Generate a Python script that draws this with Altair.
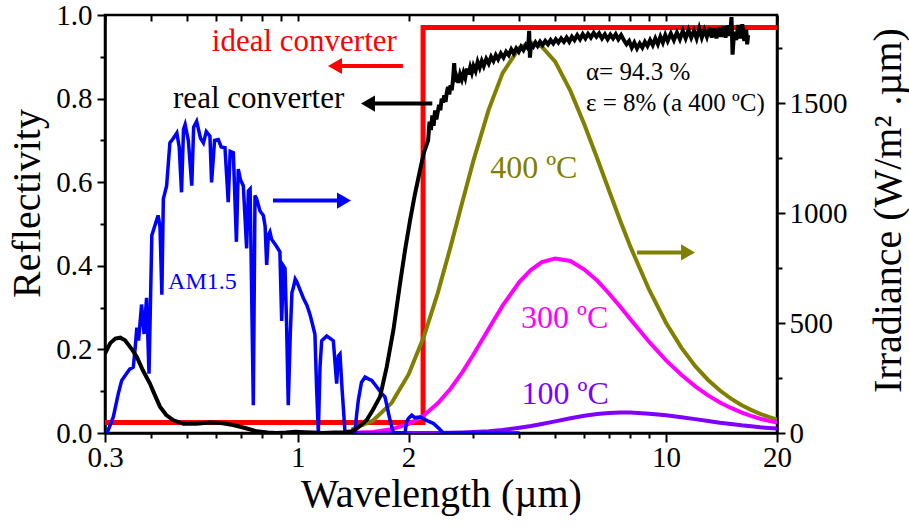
import altair as alt
import pandas as pd

FONT = "Liberation Serif"

# ---------------- data ----------------
# ideal converter (reflectivity, left axis)
ideal_wl = [0.3, 2.19, 2.19, 20]
ideal_r = [0.025, 0.025, 0.97, 0.97]

# real converter (reflectivity, left axis)
real_wl = [0.300, 0.310, 0.320, 0.330, 0.340, 0.355, 0.366, 0.380, 0.397, 0.410,
           0.423, 0.440, 0.459, 0.489, 0.530, 0.578, 0.620, 0.668, 0.720, 0.775,
           0.830, 0.877, 0.930, 0.990, 1.050, 1.100, 1.170, 1.250, 1.330, 1.400,
           1.450, 1.500, 1.540, 1.600, 1.674, 1.745, 1.819, 1.896, 1.956, 2.020,
           2.080, 2.150, 2.200,
           2.26, 2.28, 2.30, 2.32, 2.34, 2.36, 2.38, 2.40, 2.42, 2.44,
           2.46, 2.48, 2.50, 2.52, 2.54, 2.56, 2.58, 2.60, 2.62, 2.64,
           2.66, 2.68, 2.70, 2.73, 2.76, 2.79, 2.82, 2.85, 2.88, 2.91,
           2.94, 2.97, 3.00, 3.04, 3.08, 3.12, 3.16, 3.20, 3.25, 3.30,
           3.35, 3.40, 3.45, 3.50, 3.56, 3.62, 3.68, 3.74, 3.80, 3.86,
           3.92, 3.98, 4.04, 4.10, 4.16, 4.22, 4.25, 4.27, 4.30, 4.36,
           4.42, 4.48, 4.55, 4.62, 4.70, 4.78, 4.86, 4.94, 5.02, 5.10,
           5.19, 5.28, 5.37, 5.46, 5.55, 5.64, 5.74, 5.84, 5.94, 6.04,
           6.14, 6.25, 6.36, 6.47, 6.58, 6.70, 6.82, 6.94, 7.06, 7.18,
           7.30, 7.42, 7.55, 7.68, 7.81, 7.94, 8.07, 8.20, 8.34, 8.48,
           8.62, 8.76, 8.90, 9.05, 9.20, 9.35, 9.50, 9.65, 9.80, 9.95,
           10.1, 10.3, 10.5, 10.7, 10.9, 11.1, 11.3, 11.5, 11.7, 11.9,
           12.1, 12.3, 12.5, 12.7, 12.9, 13.1, 13.3, 13.5, 13.7, 13.9,
           14.1, 14.3, 14.5, 14.7, 14.9, 15.05, 15.15, 15.3, 15.5, 15.7,
           15.9, 16.1, 16.3, 16.5, 16.6, 16.7]
real_r = [0.190, 0.215, 0.226, 0.228, 0.222, 0.200, 0.182, 0.150, 0.119, 0.090,
          0.063, 0.043, 0.031, 0.022, 0.022, 0.025, 0.024, 0.019, 0.012, 0.004,
          0.001, 0.000, 0.001, 0.003, 0.002, 0.001, 0.000, 0.001, 0.001, 0.004,
          0.011, 0.022, 0.031, 0.055, 0.087, 0.158, 0.246, 0.357, 0.437, 0.510,
          0.570, 0.630, 0.670,
          0.700, 0.745, 0.725, 0.760, 0.735, 0.772, 0.750, 0.768, 0.785, 0.772,
          0.800, 0.790, 0.808, 0.792, 0.815, 0.828, 0.810, 0.832, 0.820, 0.845,
          0.885, 0.840, 0.852, 0.838, 0.858, 0.846, 0.862, 0.850, 0.872, 0.858,
          0.875, 0.862, 0.878, 0.866, 0.888, 0.874, 0.890, 0.878, 0.895, 0.884,
          0.900, 0.890, 0.904, 0.894, 0.908, 0.898, 0.912, 0.904, 0.918, 0.908,
          0.920, 0.912, 0.924, 0.916, 0.928, 0.920, 0.962, 0.898, 0.930, 0.924,
          0.934, 0.926, 0.936, 0.928, 0.938, 0.930, 0.940, 0.932, 0.942, 0.934,
          0.944, 0.936, 0.946, 0.936, 0.948, 0.940, 0.952, 0.942, 0.954, 0.944,
          0.955, 0.946, 0.957, 0.948, 0.956, 0.944, 0.954, 0.942, 0.953, 0.944,
          0.954, 0.942, 0.952, 0.940, 0.930, 0.938, 0.922, 0.934, 0.920, 0.932,
          0.922, 0.936, 0.926, 0.940, 0.928, 0.944, 0.930, 0.948, 0.934, 0.952,
          0.938, 0.956, 0.940, 0.958, 0.942, 0.962, 0.944, 0.964, 0.946, 0.962,
          0.944, 0.968, 0.946, 0.964, 0.948, 0.970, 0.946, 0.968, 0.944, 0.970,
          0.948, 0.972, 0.946, 0.975, 0.950, 0.995, 0.905, 0.960, 0.940, 0.976,
          0.944, 0.978, 0.938, 0.965, 0.930, 0.952]

# AM1.5 solar spectrum (irradiance, right axis)
am_wl = [0.304, 0.316, 0.326, 0.333, 0.343, 0.350, 0.358, 0.362, 0.366, 0.370,
         0.377, 0.383, 0.389, 0.395, 0.402, 0.410, 0.418, 0.423, 0.428, 0.432,
         0.441, 0.450, 0.460, 0.470, 0.477, 0.484, 0.490, 0.495, 0.505, 0.516,
         0.522, 0.532, 0.545, 0.555, 0.565, 0.578, 0.584, 0.595, 0.609, 0.620,
         0.635, 0.648, 0.656, 0.669, 0.682, 0.690, 0.700, 0.712, 0.727, 0.735,
         0.743, 0.758, 0.766, 0.774, 0.790, 0.807, 0.816, 0.824, 0.833, 0.841,
         0.850, 0.859, 0.875, 0.895, 0.905, 0.915, 0.924, 0.933, 0.943, 0.955,
         0.965, 0.973, 0.985, 0.994, 1.010, 1.036, 1.060, 1.080, 1.095, 1.114,
         1.126, 1.138, 1.150, 1.162, 1.180, 1.199, 1.225, 1.250, 1.276, 1.290,
         1.303, 1.320, 1.345, 1.431, 1.445, 1.461, 1.490, 1.524, 1.560, 1.589,
         1.640, 1.690, 1.726, 1.781, 1.819, 1.956, 1.975, 1.997, 2.040, 2.080,
         2.150, 2.250, 2.334, 2.420, 2.485, 4.000]
am_irr = [0, 73, 179, 239, 269, 290, 299, 380, 479, 420,
          584, 450, 614, 270, 899, 944, 989, 940, 629, 1064,
          1124, 1319, 1340, 1364, 1300, 1094, 1380, 1402, 1330, 1124,
          1390, 1417, 1340, 1319, 1370, 1349, 1139, 1330, 1334, 1300,
          1297, 1049, 1280, 1274, 869, 1200, 1150, 1124, 839, 1100,
          1109, 126, 1080, 1064, 1010, 989, 940, 764, 900, 914,
          880, 869, 850, 824, 509, 760, 749, 500, 126, 450,
          640, 659, 700, 689, 660, 614, 580, 539, 500, 449,
          200, 0, 300, 419, 430, 441, 430, 419, 224, 350,
          359, 200, 0, 0, 80, 149, 230, 254, 245, 239,
          209, 180, 164, 59, 0, 0, 50, 66, 81, 70,
          73, 55, 44, 20, 0, 0]

# thermal emission curves (irradiance, right axis)
bb_wl = [1.4, 1.6, 1.8, 2.0, 2.2, 2.4, 2.6, 2.8, 3.0, 3.3, 3.6, 4.0, 4.3, 4.6,
         5.0, 5.5, 6.0, 6.5, 7.0, 7.5, 8.0, 9.0, 10, 11, 12, 13, 14, 15, 16,
         17, 18, 19, 20]
bb_400 = [16, 56, 137, 266, 437, 636, 846, 1051, 1238, 1470, 1636, 1752, 1775,
          1756, 1688, 1555, 1402, 1249, 1102, 967, 847, 650, 500, 388, 304, 241,
          193, 156, 127, 105, 87, 73, 61]
bb_300 = [1, 5, 17, 41, 80, 135, 201, 277, 357, 474, 579, 687, 742, 777, 793,
          782, 743, 693, 634, 575, 517, 414, 330, 265, 212, 171, 139, 114, 94,
          78, 65, 55, 47]
bb_100 = [0, 0, 0, 0, 0, 0.5, 1, 2, 4, 8, 14, 24, 32, 41, 53, 67, 78, 86, 91,
          93, 93, 88, 81, 72, 63, 55, 47, 41, 35, 31, 26, 23, 20]

# annotations
txt_label = ["ideal converter", "real converter", "AM1.5", "\u03b1= 94.3 %",
             "\u03b5 = 8% (a 400 \u00baC)", "400 \u00baC", "300 \u00baC", "100 \u00baC"]
txt_wl = [0.585, 0.459, 0.445, 6.06, 6.06, 3.33, 4.04, 4.05]
txt_r = [0.913, 0.778, 0.344, 0.845, 0.771, 0.611, 0.251, 0.069]
txt_color = ["#FF0000", "#000000", "#0000FF", "#000000", "#000000",
             "#808000", "#FF00FF", "#8000FF"]
txt_size = [31, 31, 24, 25, 25, 32, 32, 32]

arrow_from = [1.93, 2.32, 0.857, 8.34]
arrow_to = [1.303, 1.592, 1.319, 11.19]
arrow_head = [1.263, 1.552, 1.336, 11.47]
arrow_r = [0.878, 0.788, 0.556, 0.432]
arrow_color = ["#FF0000", "#000000", "#0000FF", "#808000"]
arrow_shape = ["triangle-left", "triangle-left", "triangle-right", "triangle-right"]

x_ticks = [0.3, 0.4, 0.5, 0.6, 0.7, 0.8, 0.9, 1, 2, 3, 4, 5, 6, 7, 8, 9, 10, 20]
left_ticks = [0, 0.1, 0.2, 0.3, 0.4, 0.5, 0.6, 0.7, 0.8, 0.9, 1.0]
right_ticks = [0, 250, 500, 750, 1000, 1250, 1500, 1750]

# ---------------- frames ----------------
df_ideal = pd.DataFrame({"wl": ideal_wl, "r": ideal_r, "idx": range(len(ideal_wl))})
df_real = pd.DataFrame({"wl": real_wl, "r": real_r})
df_am = pd.DataFrame({"wl": am_wl, "irr": am_irr})
df_bb = pd.DataFrame({"wl": bb_wl, "t400": bb_400, "t300": bb_300, "t100": bb_100})
df_txt = pd.DataFrame({"wl": txt_wl, "r": txt_r, "t": txt_label, "c": txt_color, "fs": txt_size})
df_arrow = pd.DataFrame({"wl": arrow_from, "wl2": arrow_to, "wh": arrow_head, "r": arrow_r,
                         "c": arrow_color, "s": arrow_shape})

xscale = alt.Scale(type="log", domain=[0.3, 20], nice=False)
yL = alt.Scale(domain=[0, 1], nice=False, zero=True)
yR = alt.Scale(domain=[0, 1900], nice=False, zero=True)

bottom_axis = alt.Axis(
    values=x_ticks,
    labelExpr="indexof([0.3,1,2,10,20], datum.value) >= 0 ? format(datum.value, '~g') : ''",
    tickSize={"condition": {"test": "indexof([0.3,1,2,10,20], datum.value) >= 0", "value": 9}, "value": 5},
    title="Wavelength (\u00b5m)",
    titleX=336, titleY=73, titleAlign="center", titleBaseline="alphabetic",
    titleFontSize=40, labelFontSize=29, labelPadding=1, labelOverlap=False,
    labelFlush=False, grid=False,
)
top_axis = alt.Axis(
    orient="top", values=x_ticks, labels=False, domain=False, ticks=True,
    tickSize=6, offset=-6, title=None, grid=False,
)
left_axis = alt.Axis(
    values=left_ticks,
    labelExpr="round(datum.value*10) % 2 == 0 ? format(datum.value, '.1f') : ''",
    tickSize={"condition": {"test": "round(datum.value*10) % 2 == 0", "value": 8}, "value": 5},
    title="Reflectivity", titleAngle=270, titleX=-66, titleY=188,
    titleAlign="center", titleBaseline="alphabetic",
    titleFontSize=40, labelFontSize=29, labelPadding=5, labelOverlap=False,
    labelFlush=False, grid=False,
)
right_axis = alt.Axis(
    orient="right", values=right_ticks,
    labelExpr="datum.value % 500 == 0 ? format(datum.value, 'd') : ''",
    tickSize={"condition": {"test": "datum.value % 500 == 0", "value": 8}, "value": 5},
    title="Irradiance (W/m\u00b2 .\u00b5m)", titleAngle=270, titleX=123, titleY=195,
    titleAlign="center", titleBaseline="alphabetic",
    titleFontSize=40, labelFontSize=29, labelPadding=4, labelOverlap=False,
    labelFlush=False, grid=False,
)

X_bottom = alt.X("wl:Q", scale=xscale, axis=bottom_axis)
X_top = alt.X("wl:Q", scale=xscale, axis=top_axis)
X_none = alt.X("wl:Q", scale=xscale, axis=None)

# layer A: ideal converter with bottom and left axes
ideal = alt.Chart(df_ideal).mark_line(color="#FF0000", strokeWidth=5, clip=True).encode(
    x=X_bottom, y=alt.Y("r:Q", scale=yL, axis=left_axis), order="idx:Q")

# layer B: right-axis curves
Y_right = alt.Y("irr:Q", scale=yR, axis=right_axis)
bb_base = alt.Chart(df_bb)
olive = bb_base.mark_line(color="#808000", strokeWidth=4, clip=True).encode(
    x=X_top, y=alt.Y("t400:Q", scale=yR, axis=right_axis))
magenta = bb_base.mark_line(color="#FF00FF", strokeWidth=4, clip=True).encode(
    x=X_top, y=alt.Y("t300:Q", scale=yR, axis=right_axis))
purple = bb_base.mark_line(color="#8000FF", strokeWidth=4, clip=True).encode(
    x=X_top, y=alt.Y("t100:Q", scale=yR, axis=right_axis))
blue = alt.Chart(df_am).mark_line(color="#0000FF", strokeWidth=3.5, clip=True).encode(
    x=X_top, y=Y_right)
right_layer = alt.layer(olive, magenta, purple, blue)

# layer C: real converter
real = alt.Chart(df_real).mark_line(color="#000000", strokeWidth=4, clip=True).encode(
    x=X_none, y=alt.Y("r:Q", scale=yL, axis=None))

# layer D: annotations
texts = alt.Chart(df_txt).mark_text(font=FONT, align="left", baseline="alphabetic").encode(
    x=X_none, y=alt.Y("r:Q", scale=yL, axis=None), text="t:N",
    color=alt.Color("c:N", scale=None), size=alt.Size("fs:Q", scale=None))
shafts = alt.Chart(df_arrow).mark_rule(strokeWidth=4).encode(
    x=X_none, x2="wl2:Q", y=alt.Y("r:Q", scale=yL, axis=None),
    color=alt.Color("c:N", scale=None))
heads = alt.Chart(df_arrow).mark_point(filled=True, opacity=1, size=260).encode(
    x=alt.X("wh:Q", scale=xscale, axis=None), y=alt.Y("r:Q", scale=yL, axis=None),
    color=alt.Color("c:N", scale=None), shape=alt.Shape("s:N", scale=None))
annot = alt.layer(shafts, heads, texts)

chart = alt.layer(ideal, right_layer, real, annot).resolve_scale(
    y="independent"
).resolve_axis(
    x="independent", y="independent"
).properties(
    width=672, height=418,
    autosize=alt.AutoSizeParams(type="none"),
    padding={"left": 105, "top": 15, "right": 132, "bottom": 96},
    background="white",
).configure_view(
    stroke="black", strokeWidth=2.5
).configure_axis(
    domainColor="black", domainWidth=2.5, tickColor="black", tickWidth=2,
    labelColor="black", titleColor="black", labelFont=FONT, titleFont=FONT,
    titleFontWeight="normal",
)

chart.save("out.html", embed_options={"renderer": "svg", "actions": False})
